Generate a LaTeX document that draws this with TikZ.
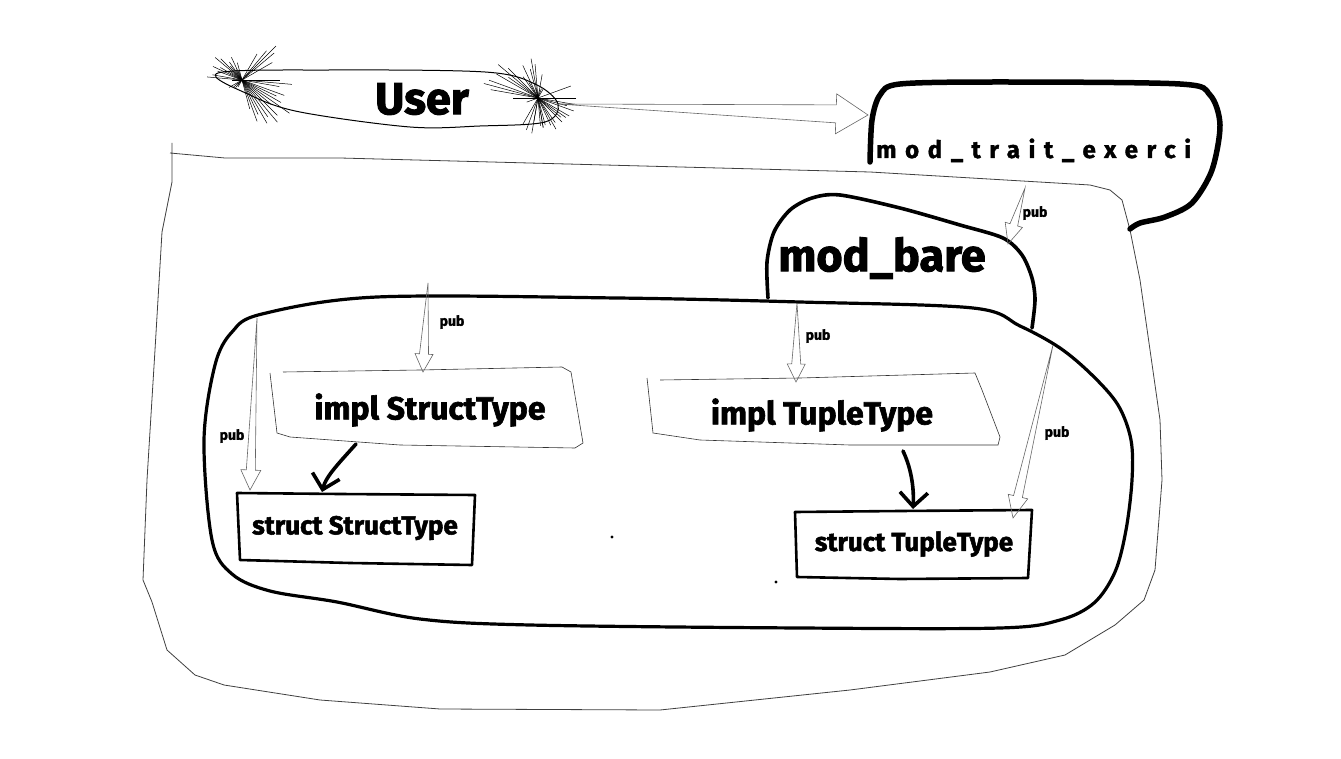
\documentclass[tikz,border=0pt]{standalone}
\usepackage{fontspec}
\setmainfont{Fira Sans}
\newfontfamily\spacedsans{Fira Sans}[LetterSpace=36, BoldFeatures={FakeBold=1.5}]
\newfontfamily\heavyfam{Fira Sans}[BoldFeatures={FakeBold=2}]
\newcommand\heavy{\heavyfam\bfseries}
\usetikzlibrary{calc,arrows.meta}
\newcommand\hollowarr[5]{%
  \path ($(#2)!#3!(#1)$) coordinate (hb);
  \draw[hollow] (#1) -- ($(hb)!#4!90:(#2)$) -- ($(hb)!#5!90:(#2)$) -- (#2)
    -- ($(hb)!#5!-90:(#2)$) -- ($(hb)!#4!-90:(#2)$) -- cycle;
}
\begin{document}
\begin{tikzpicture}[x=1pt,y=-1pt,
  thickline/.style={line width=3.2pt, line join=round, line cap=round},
  thinline/.style={line width=0.8pt, draw=black!75, line join=round},
  hollow/.style={draw=black!60, line width=0.6pt, line join=miter},
  brush/.style={line width=0.5pt, draw=black},
  lbl/.style={font=\heavy\fontsize{14}{16}\selectfont, inner sep=0pt},
  blackarr/.style={line width=3.6pt, line cap=round, -{Straight Barb[length=14pt,width=28pt]}},
  bigtxt/.style={font=\heavy\fontsize{45}{50}\selectfont, inner sep=0pt},
  impltxt/.style={font=\heavy\fontsize{32}{36}\selectfont, inner sep=0pt},
  structtxt/.style={font=\heavy\fontsize{26}{30}\selectfont, inner sep=0pt}]
\useasboundingbox[fill=white] (0,0) rectangle (1341,759);

% outer container
\draw[thinline] (172,143) -- (172,182) -- (162,232) -- (155,350) -- (147,480) -- (143,580)
  -- (152,602) -- (167,650) -- (195,675) -- (224,685) -- (320,700) -- (440,709) -- (660,710)
  -- (850,690) -- (990,672) -- (1065,655) -- (1115,625) -- (1144,600) -- (1155,570)
  -- (1162,480) -- (1160,420) -- (1140,280) -- (1130,230) -- (1122,200) -- (1110,190)
  -- (1090,185) -- (870,172) -- (340,158) -- (225,158) -- (170,153);

% inner big rounded region
\draw[thickline] plot[smooth cycle, tension=0.55] coordinates {
  (262,314) (377,297) (617,298) (800,302) (973,308) (1020,326) (1060,348) (1092,375)
  (1118,405) (1131,440) (1132,480) (1126,530) (1115,572) (1094,603) (1060,620)
  (1000,628) (800,628) (530,625) (420,619) (337,602) (270,591) (232,574)
  (212,540) (204,440) (215,365) (232,332)};

% mod_bare blob
\draw[thickline, line width=3.6pt] plot[smooth, tension=0.5] coordinates {
  (768,298) (767,262) (774,232) (790,210) (812,198) (840,195) (900,208) (960,225)
  (1003,238) (1022,255) (1032,278) (1035,300) (1032,328)};

% mod_trait_exerci shape (open)
\draw[line width=5.5pt, line cap=round, line join=round] plot[smooth, tension=0.5] coordinates {
  (870,162) (872,120) (880,95) (900,84) (1000,82) (1180,84) (1210,95) (1220,125)
  (1212,170) (1192,203) (1165,217) (1140,223) (1130,229)};

% User ellipse
\draw[line width=1pt] plot[smooth cycle, tension=0.55] coordinates {
  (218,73) (330,70) (485,72) (535,84) (558,104) (545,122) (480,126) (410,127)
  (300,112) (250,95)};
\coordinate (ul) at (242,80);
\coordinate (ur) at (538,98);
\foreach \a/\l/\m in {30/45/25, 45/50/30, 55/45/22, 65/38/25, 75/30/18, 40/38/35,
  50/55/18, -40/42/12, -50/38/10, -30/35/15, -60/30/8, 10/38/30, 5/50/35, 20/45/26,
  60/50/12, 35/58/14, 180/10/38, 25/38/32, 70/44/10, -45/48/6}
  \draw[brush] ($(ul)+(\a:\l)$) -- ($(ul)+(\a:-\m)$);
\foreach \a/\l/\m in {30/36/48, 45/34/42, 55/30/26, 65/30/36, 75/28/30, 85/28/34,
  -80/8/36, -70/10/34, -100/8/30, 20/38/52, 10/35/48, 0/38/25, -20/35/12, 40/30/52,
  60/36/18, 100/24/24, 15/30/56, 35/34/36, 80/30/40, -60/10/30}
  \draw[brush] ($(ur)+(\a:\l)$) -- ($(ur)+(\a:-\m)$);

% text nodes
\node[bigtxt] (user) at (422,99) {User};
\node[font=\spacedsans\bfseries\fontsize{24}{28}\selectfont, inner sep=0pt, anchor=base west]
  (trait) at (876,158) {mod\_trait\_exerci};
\node[bigtxt] (bare) at (882,258) {mod\_bare};

% impl StructType box
\draw[line width=0.6pt, draw=black!80] (270,373) -- (277,433) -- (290,437) -- (400,445)
  -- (575,448) -- (583,443) -- (571,372) -- (562,367) -- (420,370) -- (283,372);
\node[impltxt] (implS) at (430,410) {impl StructType};

% impl TupleType box
\draw[line width=0.6pt, draw=black!80] (647,378) -- (648,387) -- (653,433) -- (700,440)
  -- (850,445) -- (998,445) -- (1000,437) -- (982,390) -- (975,373) -- (800,378) -- (660,380);
\node[impltxt] (implT) at (822,415) {impl TupleType};

% struct boxes
\draw[line width=2.6pt, line join=round] (237,493) -- (340,494) -- (475,495) -- (472,565)
  -- (350,563) -- (240,560) -- cycle;
\node[structtxt] (structS) at (355,528) {struct StructType};
\draw[line width=2.6pt, line join=round] (795,512) -- (900,511) -- (1032,510) -- (1028,578)
  -- (900,579) -- (797,577) -- cycle;
\node[structtxt] (structT) at (914,544) {struct TupleType};

% arrow end coordinates
\coordinate (userout) at (558,104);
\coordinate (traitin) at (868,115);
\coordinate (traitout) at (1025,188);
\coordinate (barein) at (1008,244);
\coordinate (bareoutS) at (428,283);
\coordinate (implSin) at (423,372);
\coordinate (bareoutSS) at (257,318);
\coordinate (structSin) at (250,490);
\coordinate (bareoutT) at (797,303);
\coordinate (implTin) at (796,382);
\coordinate (bareoutTT) at (1053,345);
\coordinate (structTin) at (1013,518);
\coordinate (implSout) at (356,444);
\coordinate (structStop) at (322,492);
\coordinate (implTout) at (903,451);
\coordinate (structTtop) at (913,509);

% hollow arrows
\hollowarr{userout}{traitin}{32pt}{9pt}{20pt}
\hollowarr{traitout}{barein}{20pt}{4pt}{9pt}
\hollowarr{bareoutS}{implSin}{18pt}{4.5pt}{9pt}
\hollowarr{bareoutSS}{structSin}{20pt}{4.5pt}{10pt}
\hollowarr{bareoutT}{implTin}{18pt}{4.5pt}{9pt}
\hollowarr{bareoutTT}{structTin}{22pt}{4.5pt}{10pt}

\node[lbl] (p1) at (1035,213) {pub};
\node[lbl] (p2) at (452,322) {pub};
\node[lbl] (p3) at (232,436) {pub};
\node[lbl] (p4) at (818,336) {pub};
\node[lbl] (p5) at (1057,433) {pub};

% black arrows
\draw[blackarr] (implSout) .. controls (340,462) and (326,476) .. (structStop);
\draw[blackarr] (implTout) .. controls (912,470) and (914,490) .. (structTtop);

% dots
\fill (612,537) circle (1.6);
\fill (776,582) circle (1.6);
\end{tikzpicture}
\end{document}
